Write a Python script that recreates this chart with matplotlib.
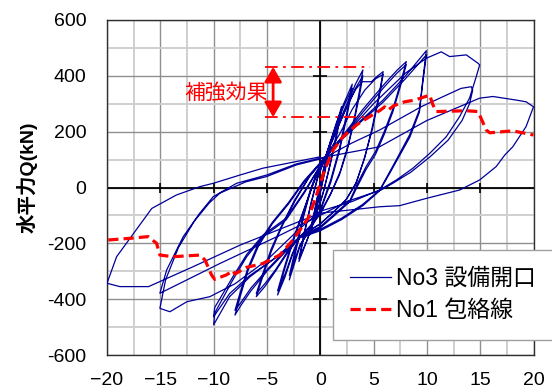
import matplotlib
matplotlib.use('Agg')
import matplotlib.pyplot as plt
import numpy as np

plt.rcParams['font.family'] = ['Liberation Sans', 'Noto Sans CJK JP', 'DejaVu Sans']

# ---------------- data ----------------
x_ticks = [-20, -15, -10, -5, 0, 5, 10, 15, 20]
x_tick_labels = ['\u221220', '\u221215', '\u221210', '\u22125', '0', '5', '10', '15', '20']
y_ticks = [-600, -400, -200, 0, 200, 400, 600]
y_tick_labels = ['-600', '-400', '-200', '0', '200', '400', '600']
x_minor = [-17.5, -12.5, -7.5, -2.5, 2.5, 7.5, 12.5, 17.5]
y_minor = [-500, -300, -100, 100, 300, 500]

# hysteresis of No3 (displacement, load) - cycle by cycle
cyc_1 = [(0, 0), (0.5, 90), (1.0, 170), (0.6, 95), (0.2, 20), (0, -15), (-0.5, -95), (-1.0, -170),
         (-0.6, -100), (-0.2, -25), (0, 10), (0.5, 95), (1.0, 165), (0.6, 85), (0.2, 15), (0, -20),
         (-0.5, -100), (-1.0, -165), (-0.6, -95), (-0.2, -20), (0.1, 30)]
cyc_2 = [(0.5, 100), (1.2, 185), (2.0, 290), (1.5, 190), (0.9, 80), (0.3, -15), (-0.5, -110),
         (-1.2, -185), (-2.0, -265), (-1.5, -170), (-0.9, -60), (-0.3, 30), (0.5, 110), (1.2, 190),
         (2.0, 280), (1.5, 175), (0.8, 60), (0.2, -30), (-0.6, -120), (-1.3, -195), (-2.0, -255),
         (-1.5, -160), (-0.8, -50), (-0.2, 40)]
cyc_3 = [(0.5, 110), (1.5, 230), (2.2, 300), (3.0, 370), (2.5, 270), (1.8, 140), (1.0, 30), (0, -80),
         (-1.0, -150), (-1.9, -210), (-2.9, -331), (-2.3, -230), (-1.6, -110), (-0.9, -10), (-0.2, 60),
         (0.5, 110), (1.5, 225), (2.2, 290), (3.0, 355), (2.5, 255), (1.8, 130), (1.0, 20), (0, -85),
         (-1.0, -155), (-1.9, -205), (-2.9, -315), (-2.3, -215), (-1.6, -100), (-0.9, -5), (-0.2, 65),
         (0.5, 110)]
cyc_4 = [(1.5, 210), (2.5, 300), (3.3, 370), (4.0, 421), (3.7, 350), (3.2, 250), (2.6, 150), (1.9, 60),
         (1.0, -20), (0, -90), (-1.0, -140), (-1.9, -176), (-2.6, -240), (-3.3, -320), (-4.0, -385),
         (-3.4, -300), (-2.6, -200), (-1.6, -90), (-0.6, 20), (0.5, 110), (1.5, 205), (2.5, 290),
         (3.3, 355), (4.0, 400), (3.7, 335), (3.2, 240), (2.5, 130), (1.8, 45), (0.9, -30), (0, -95),
         (-1.0, -145), (-1.9, -176), (-2.6, -235), (-3.3, -310), (-4.0, -370), (-3.4, -290),
         (-2.6, -190), (-1.6, -85), (-0.6, 20), (0.5, 110)]
cyc_6 = [(1.5, 200), (2.5, 290), (3.3, 350), (3.9, 379), (4.8, 379), (5.4, 400), (5.9, 415),
         (5.5, 330), (4.9, 220), (4.2, 110), (3.4, 20), (2.5, -40), (1.2, -90), (0, -130), (-1.9, -176),
         (-3.0, -230), (-4.2, -300), (-5.2, -355), (-6.0, -391), (-5.4, -320), (-4.6, -230),
         (-3.6, -140), (-2.4, -50), (-1.0, 40), (0.5, 110), (1.8, 190), (3.0, 280), (4.2, 350),
         (5.2, 390), (5.9, 405), (5.5, 320), (4.9, 210), (4.1, 100), (3.3, 10), (2.3, -50), (1.0, -95),
         (0, -130), (-1.9, -176), (-3.0, -225), (-4.2, -295), (-5.2, -345), (-6.0, -380),
         (-5.4, -310), (-4.6, -220), (-3.6, -135), (-2.4, -45), (-1.0, 40), (0.5, 110)]
cyc_8 = [(2.0, 180), (4.0, 280), (6.0, 370), (7.2, 420), (8.07, 451), (7.5, 370), (6.8, 280),
         (6.0, 200), (5.2, 130), (4.3, 75), (3.5, 15), (2.8, -45), (1.2, -100), (0, -140), (-1.9, -176),
         (-3.5, -240), (-5.0, -300), (-6.5, -370), (-7.4, -420), (-8.0, -457), (-7.5, -390),
         (-6.8, -300), (-5.8, -210), (-4.5, -130), (-3.0, -60), (-1.5, 20), (0.5, 110), (2.0, 175),
         (4.0, 270), (6.0, 360), (7.2, 410), (8.07, 440), (7.5, 360), (6.8, 270), (6.0, 190),
         (5.2, 120), (4.3, 65), (3.5, 5), (2.8, -50), (1.2, -105), (0, -145), (-1.9, -176),
         (-3.5, -235), (-5.0, -295), (-6.5, -360), (-7.4, -410), (-8.0, -440), (-7.5, -375),
         (-6.8, -290), (-5.8, -200), (-4.5, -125), (-3.0, -55), (-1.5, 25), (0.5, 110)]
cyc_10 = [(1.83, 170), (3.8, 240), (5.88, 313), (8.0, 400), (9.95, 490), (9.6, 380), (9.3, 278),
          (8.4, 190), (7.45, 122), (6.5, 55), (5.57, -9), (4.0, -60), (2.0, -110), (0, -150),
          (-1.9, -176), (-4.1, -248), (-6.6, -320), (-8.5, -391), (-10.0, -492), (-9.9, -450),
          (-8.2, -331), (-6.9, -248), (-5.36, -176), (-3.2, -116), (-1.5, -20), (0.5, 110),
          (1.83, 165), (3.8, 235), (5.88, 305), (8.0, 390), (9.95, 475), (9.6, 370), (9.3, 270),
          (8.4, 180), (7.45, 115), (6.5, 50), (5.57, -12), (4.0, -65), (2.0, -115), (0, -155),
          (-1.9, -180), (-4.1, -250), (-6.6, -315), (-8.5, -380), (-10.0, -463), (-9.9, -430),
          (-8.2, -320), (-6.9, -240), (-5.36, -170), (-3.2, -110), (-1.5, -15), (0.5, 110)]
cyc_15 = [(2.0, 175), (5.0, 300), (8.0, 410), (9.95, 463), (11.35, 486), (12.13, 469), (13.7, 475),
          (14.8, 445), (14.95, 439), (14.63, 397), (14.0, 320), (13.07, 254), (11.82, 182),
          (10.26, 122), (8.69, 69), (7.14, 27), (5.57, -9), (3.0, -50), (0, -85), (-2.0, -150),
          (-5.0, -260), (-8.0, -345), (-10.35, -391), (-12.5, -409), (-14.1, -445), (-15.04, -433),
          (-14.5, -330), (-13.3, -215), (-11.8, -120), (-10.4, -55), (-9.4, -20), (-7.0, 20),
          (-5.04, 39), (-2.23, 81), (0.3, 105), (3.0, 160), (5.57, 206), (9.5, 290), (13.2, 355),
          (14.16, 361), (14.3, 349), (14.0, 300), (13.3, 240), (12.0, 170), (10.3, 110), (8.5, 55),
          (6.8, 15), (5.7, -9), (2.5, -50), (0, -100), (-4.0, -175), (-9.4, -272), (-15.04, -379),
          (-14.4, -295), (-12.85, -176), (-11.3, -92), (-10.04, -33), (-7.85, 15), (-5.0, 45),
          (-2.2, 85), (0.3, 108)]
cyc_20 = [(5.57, 146), (10.0, 240), (14.95, 320), (16.2, 326), (18.4, 313), (19.3, 307), (20.0, 289),
          (19.3, 218), (18.06, 146), (17.3, 116), (16.5, 75), (14.95, 27), (13.07, -9), (9.95, -39),
          (7.45, -65), (5.57, -69), (0, -92), (-3.5, -145), (-7.5, -206), (-12.0, -285),
          (-16.1, -355), (-18.8, -355), (-20.0, -343), (-19.1, -248), (-17.5, -164), (-15.8, -75),
          (-13.5, -27), (-11.3, 3), (-10.04, 15), (-7.5, 45), (-5.4, 69), (0, 110)]

# envelope of No1
env_x = [-19.88, -17.85, -16.13, -15.35, -15.04, -13.8, -11.3, -10.8, -10.2, -9.9, -8.8, -8.17, -8.0,
         -6.9, -5.36, -3.8, -2.7, -1.9, -1.14, -0.5, 0.42, 1.2, 2.14, 3.39, 4.64, 5.6, 6.04, 6.35, 6.9,
         7.92, 8.85, 10.26, 10.57, 10.88, 13.7, 14.8, 15.57, 15.9, 18.06, 20.0]
env_y = [-188, -182, -176, -200, -242, -248, -242, -260, -313, -329, -313, -298, -310,
         -286, -272, -242, -194, -152, -110, -45, 63, 134, 182, 224, 254, 276, 289, 277, 293,
         307, 313, 331, 296, 272, 275, 272, 206, 196, 203, 188]

# annotation (reinforcement effect)
ann_top = 432
ann_bot = 252
ann_x0, ann_x1 = -5.2, 4.64
ann_arrow_x = -4.42
ann_text = '補強効果'

series_labels = ['No3 設備開口', 'No1 包絡線']
y_label = '水平力Q(kN)'

# ---------------- plot ----------------
W, H = 552, 390
fig = plt.figure(figsize=(W / 100, H / 100), dpi=100)
ax = fig.add_axes([107 / W, 35 / H, 426.5 / W, 335 / H])
ax.set_xlim(-20, 20)
ax.set_ylim(-600, 600)

ax.set_xticks(x_ticks)
ax.set_xticklabels(x_tick_labels, fontsize=14)
ax.set_yticks(y_ticks)
ax.set_yticklabels(y_tick_labels, fontsize=14)
ax.set_xticks(x_minor, minor=True)
ax.set_yticks(y_minor, minor=True)
ax.tick_params(which='both', length=0)
ax.tick_params(axis='x', pad=12)
ax.tick_params(axis='y', pad=15)
ax.grid(which='minor', color='#CFCFCF', lw=1.4, zorder=0)
ax.grid(which='major', color='#8F8F8F', lw=1.0, zorder=0)
ax.set_axisbelow(True)
for s in ax.spines.values():
    s.set_color('#303030')
    s.set_linewidth(1.0)

# zero axes with cross ticks
ax.axhline(0, color='black', lw=1.3, zorder=1)
ax.axvline(0, color='black', lw=1.3, zorder=1)
xt_inner = [t for t in x_ticks if t not in (0, -20, 20)]
yt_inner = [t for t in y_ticks if t not in (0, -600, 600)]
ax.plot(xt_inner, [0] * len(xt_inner), ls='none', marker='|', ms=7, mew=1.2, color='black', zorder=1)
ax.plot([0] * len(yt_inner), yt_inner, ls='none', marker='_', ms=10, mew=1.2, color='black', zorder=1)

hyst = cyc_1 + cyc_2 + cyc_3 + cyc_4 + cyc_6 + cyc_8 + cyc_10 + cyc_15 + cyc_20
hx = [p[0] for p in hyst]
hy = [p[1] for p in hyst]
l1, = ax.plot(hx, hy, color='#000099', lw=0.9, zorder=3, label=series_labels[0])
l2, = ax.plot(env_x, env_y, color='#FF0000', lw=2.3, ls=(0, (3.2, 1.6)), zorder=4, label=series_labels[1])

# annotation
dd = (0, (7, 3, 1.5, 3))
ax.plot([ann_x0, ann_x1], [ann_top, ann_top], color='#FF0000', lw=1.3, ls=dd, zorder=5)
ax.plot([ann_x0, ann_x1], [ann_bot, ann_bot], color='#FF0000', lw=1.3, ls=dd, zorder=5)
ax.annotate('', xy=(ann_arrow_x, ann_top), xytext=(ann_arrow_x, ann_bot),
            arrowprops=dict(arrowstyle='<|-|>,head_length=0.6,head_width=0.35', color='#FF0000',
                            lw=2.0, mutation_scale=15, shrinkA=0, shrinkB=0), zorder=6)
ax.text(-4.95, 338, ann_text, color='#FF0000', fontsize=15, ha='right', va='center',
        family=['Noto Sans CJK JP'], zorder=6)

fig.text(27 / W, 1 - 177 / H, y_label, rotation=90, ha='center', va='center', fontsize=14,
         fontweight='bold')

leg = fig.legend(handles=[l1, l2], labels=series_labels, loc='upper left',
                 bbox_to_anchor=(333 / W, 1 - 250 / H), borderaxespad=0, fontsize=16.5,
                 handlelength=1.8, handletextpad=0.2, labelspacing=0.4, borderpad=0.75,
                 frameon=True, fancybox=False, framealpha=1, edgecolor='#A0A0A0')
leg.get_frame().set_linewidth(1.0)

fig.savefig('out.png', dpi=100)
